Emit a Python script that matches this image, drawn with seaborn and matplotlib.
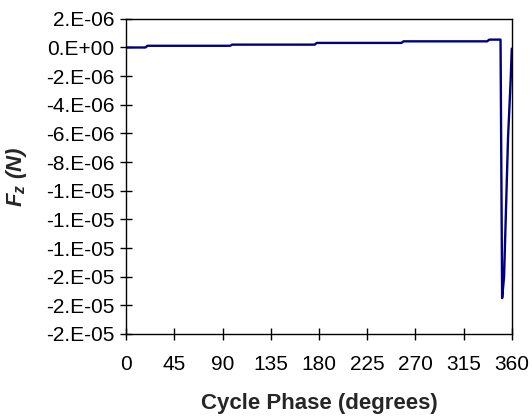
import numpy as np
import pandas as pd
import matplotlib
matplotlib.use("Agg")
import matplotlib.pyplot as plt
import seaborn as sns
from matplotlib.ticker import FuncFormatter, MultipleLocator

# Data
phase_deg = [0, 18, 20, 97, 99, 176, 178, 257, 259, 337, 339, 349.5, 351, 352.8, 356.5, 359, 360]
fz_micro = [0, 0, 0.12, 0.12, 0.2, 0.2, 0.32, 0.32, 0.43, 0.43, 0.55, 0.55,
            -17.5, -16.0, -6.3, -2.2, -0.08]
fz_newton = [v * 1e-6 for v in fz_micro]
x_ticks = [0, 45, 90, 135, 180, 225, 270, 315, 360]

df = pd.DataFrame({"phase": phase_deg, "fz": fz_newton})

sns.set_style("ticks")
plt.rcParams["font.family"] = ["Liberation Sans", "DejaVu Sans"]
plt.rcParams["mathtext.fontset"] = "custom"
plt.rcParams["mathtext.it"] = "Liberation Sans:italic:bold"
plt.rcParams["mathtext.rm"] = "Liberation Sans:bold"

fig = plt.figure(figsize=(5.32, 4.19), dpi=100)
ax = fig.add_axes([0.237, 0.203, 0.725, 0.752])

sns.lineplot(data=df, x="phase", y="fz", ax=ax, sort=False, estimator=None,
             color="#000080", linewidth=1.7)

ax.set_xlim(0, 360)
ax.set_ylim(-2e-5, 2e-6)
ax.set_xticks(x_ticks)
ax.yaxis.set_major_locator(MultipleLocator(2e-6))

def excel_fmt(v, pos):
    s = "{:.0E}".format(v)
    mant, exp = s.split("E")
    if mant in ("-0",):
        mant = "0"
    return f"{mant}.E{exp}"

ax.yaxis.set_major_formatter(FuncFormatter(excel_fmt))
ax.tick_params(axis="both", direction="inout", length=9, width=1, colors="black",
               labelsize=15, pad=4)
ax.tick_params(axis="x", pad=11)

for sp in ax.spines.values():
    sp.set_visible(True)
    sp.set_color("black")
    sp.set_linewidth(1.0)

ax.set_xlabel("Cycle Phase (degrees)", fontsize=16, fontweight="bold", labelpad=13)
ax.set_ylabel(r"$F_z$ (N)", fontsize=16, fontweight="bold", style="italic", labelpad=12)

fig.savefig("out.png", dpi=100)
